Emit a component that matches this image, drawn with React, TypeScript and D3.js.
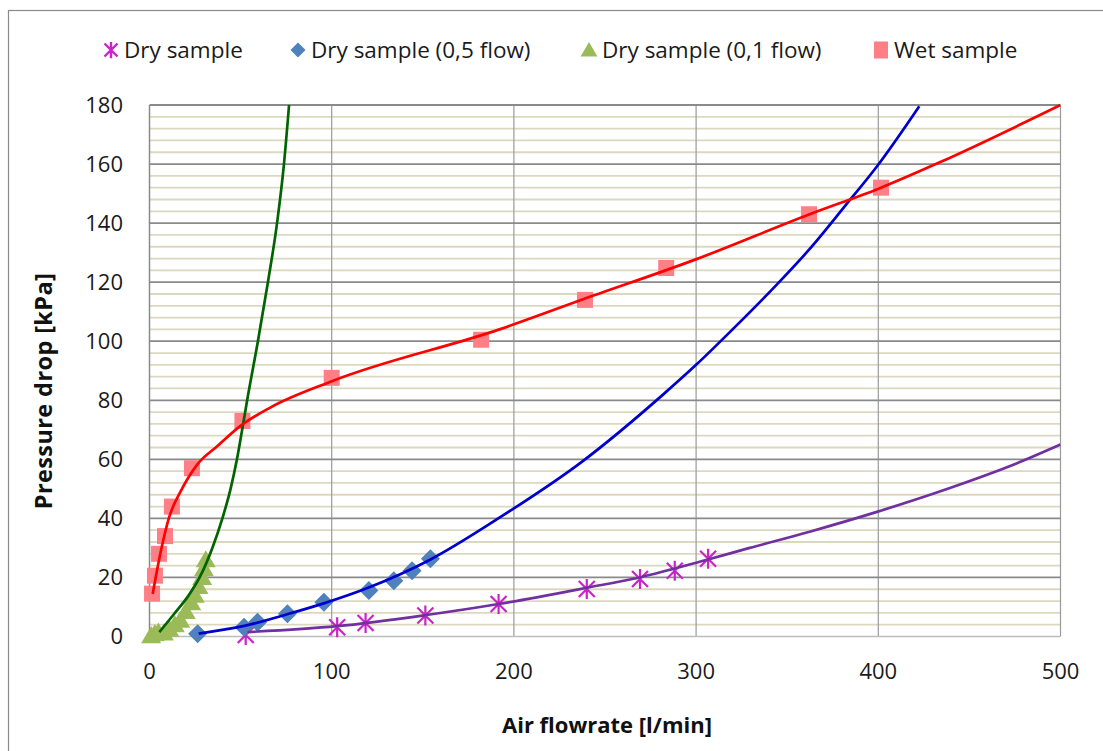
import React, { useEffect, useRef } from 'react';
import * as d3 from 'd3';

// axis ticks
const xTicks = [0, 100, 200, 300, 400, 500];
const yTicks = [0, 20, 40, 60, 80, 100, 120, 140, 160, 180];

// measured points
const dryX = [52.8, 103, 118.6, 151.4, 191.6, 240, 269.2, 288.3, 306.6];
const dryY = [0.5, 3.1, 4.6, 7.1, 11, 16.1, 19.5, 22.3, 26.3];
const dry05X = [26.4, 51.9, 59.3, 75.7, 95.7, 120.4, 134.1, 144.1, 154.2];
const dry05Y = [0.9, 3.1, 4.8, 7.7, 11.6, 15.6, 18.9, 22.3, 26.3];
const dry01X = [2, 4, 6, 9, 12, 15, 18, 21, 24, 26, 28, 30, 31, 32];
const dry01Y = [0.3, 1, 1.5, 1.2, 2.5, 4, 5.5, 8.5, 11.5, 14, 17, 20, 23, 26];
const wetX = [1.4, 3, 5.2, 8.5, 12.3, 23.3, 51, 100, 182, 239, 283.6, 362, 401.5];
const wetY = [14.5, 20.6, 28, 34, 44, 57, 73, 87.6, 100.5, 114, 124.8, 143, 152];

// trendlines
const dryFitX = [53.8, 103, 151, 191.6, 240, 269, 306, 329.4, 362.3, 399.7, 438.9, 475.5, 500];
const dryFitY = [1.5, 3.5, 7.2, 11, 16.5, 20, 26, 30, 35.5, 42.3, 50.2, 58.5, 65];
const dry05FitX = [27, 52, 76, 96, 120, 154, 192.5, 238, 282, 300, 320, 344, 362, 382, 399, 422.5];
const dry05FitY = [1, 3.6, 7.6, 11.3, 16.5, 26, 40.4, 59.5, 82, 92, 104, 119, 131, 146, 159, 179.6];
const dry01FitX = [5.4, 13.6, 21, 27.5, 34.5, 40, 44.5, 48, 51.4, 53.6, 59.5, 65, 70, 73.8, 76.6];
const dry01FitY = [1.5, 7.7, 13.5, 20, 30, 40, 50, 60, 72, 80, 100, 120, 140, 160, 180];
const wetFitX = [1.75, 6.3, 10.8, 17.3, 26.4, 37.3, 50.1, 66.5, 99.4, 192.5, 238, 300.2, 362.3, 401.5, 433.4, 500];
const wetFitY = [14.4, 29.1, 40.4, 49.4, 58.4, 64.5, 71.4, 77.6, 86.3, 104.1, 114.2, 127.8, 143, 152, 160.5, 180];

const seriesNames = ['Dry sample', 'Dry sample (0,5 flow)', 'Dry sample (0,1 flow)', 'Wet sample'];

const W = 1103;
const H = 751;
const FONT = '"Open Sans", Lato, sans-serif';

export default function App() {
  const ref = useRef<SVGSVGElement>(null);

  useEffect(() => {
    document.body.style.margin = '0';
    const svg = d3.select(ref.current);
    svg.selectAll('*').remove();

    const x = d3.scaleLinear().domain([0, 500]).range([149.5, 1060.5]);
    const y = d3.scaleLinear().domain([0, 180]).range([636.5, 105]);
    const [x0, x1] = x.range();
    const [y0, y1] = y.range();

    // chart border
    svg.append('rect')
      .attr('x', 8.5).attr('y', 10.5)
      .attr('width', 1300).attr('height', 1000)
      .attr('fill', 'none').attr('stroke', '#8a8a8a').attr('stroke-width', 1.2);

    // minor gridlines
    const minor = d3.range(4, 180, 4).filter((v) => v % 20 !== 0);
    svg.append('g').selectAll('line').data(minor).join('line')
      .attr('x1', x0).attr('x2', x1)
      .attr('y1', (d) => y(d)).attr('y2', (d) => y(d))
      .attr('stroke', '#dcd8c0').attr('stroke-width', 1.8);

    // vertical gridlines
    svg.append('g').selectAll('line').data(xTicks.slice(1)).join('line')
      .attr('x1', (d) => x(d)).attr('x2', (d) => x(d))
      .attr('y1', y1).attr('y2', y0)
      .attr('stroke', '#9a9a9a').attr('stroke-width', 1.2);

    // major gridlines
    svg.append('g').selectAll('line').data(yTicks.slice(1)).join('line')
      .attr('x1', x0).attr('x2', x1)
      .attr('y1', (d) => y(d)).attr('y2', (d) => y(d))
      .attr('stroke', '#8a8a8a').attr('stroke-width', 1.8);

    // axes lines
    svg.append('line').attr('x1', x0).attr('x2', x0).attr('y1', y1).attr('y2', y0)
      .attr('stroke', '#8a8a8a').attr('stroke-width', 1.5);
    svg.append('line').attr('x1', x0).attr('x2', x1).attr('y1', y0).attr('y2', y0)
      .attr('stroke', '#bdbdbd').attr('stroke-width', 1.5);

    // tick labels
    svg.append('g').selectAll('text').data(yTicks).join('text')
      .attr('x', 123).attr('y', (d) => y(d)).attr('dy', '0.36em')
      .attr('text-anchor', 'end').attr('font-family', FONT).attr('font-size', 22)
      .attr('fill', '#1a1a1a').text((d) => d);
    svg.append('g').selectAll('text').data(xTicks).join('text')
      .attr('x', (d) => x(d)).attr('y', 679)
      .attr('text-anchor', 'middle').attr('font-family', FONT).attr('font-size', 22)
      .attr('fill', '#1a1a1a').text((d) => d);

    // axis titles
    svg.append('text')
      .attr('transform', 'translate(52,391) rotate(-90)')
      .attr('text-anchor', 'middle').attr('font-family', FONT).attr('font-size', 23.5)
      .attr('letter-spacing', 0.4)
      .attr('font-weight', 700).attr('fill', '#111').text('Pressure drop [kPa]');
    svg.append('text')
      .attr('x', 607).attr('y', 733)
      .attr('text-anchor', 'middle').attr('font-family', FONT).attr('font-size', 22)
      .attr('font-weight', 700).attr('fill', '#111').text('Air flowrate [l/min]');

    const zip = (xs: number[], ys: number[]) => xs.map((v, i) => [v, ys[i]] as [number, number]);

    const plot = svg.append('g');
    plot.append('clipPath').attr('id', 'clip').append('rect')
      .attr('x', x0).attr('y', y1 - 2).attr('width', x1 - x0).attr('height', y0 - y1 + 4);

    // markers
    const starPath = (s: number) =>
      `M${-s},${-s}L${s},${s}M${-s},${s}L${s},${-s}M0,${-s * 1.25}L0,${s * 1.25}`;
    const diamond = (s: number) => `M0,${-s}L${s},0L0,${s}L${-s},0Z`;
    const triangle = (s: number) => `M0,${-s}L${s * 1.05},${s * 0.8}L${-s * 1.05},${s * 0.8}Z`;

    plot.append('g').selectAll('path').data(zip(dryX, dryY)).join('path')
      .attr('transform', (d) => `translate(${x(d[0])},${y(d[1])})`)
      .attr('d', starPath(8)).attr('stroke', '#cc22cc').attr('stroke-width', 2.2).attr('fill', 'none');
    plot.append('g').selectAll('path').data(zip(dry05X, dry05Y)).join('path')
      .attr('transform', (d) => `translate(${x(d[0])},${y(d[1])})`)
      .attr('d', diamond(9.5)).attr('fill', '#4f81bd');
    plot.append('g').selectAll('path').data(zip(dry01X, dry01Y)).join('path')
      .attr('transform', (d) => `translate(${x(d[0]) - 2},${y(d[1])})`)
      .attr('d', triangle(9.5)).attr('fill', '#9bbb59');
    plot.append('g').selectAll('rect').data(zip(wetX, wetY)).join('rect')
      .attr('x', (d) => x(d[0]) - 8).attr('y', (d) => y(d[1]) - 8)
      .attr('width', 16).attr('height', 16).attr('fill', '#ff7f86');

    // trendlines
    const line = d3.line<[number, number]>()
      .x((d) => x(d[0])).y((d) => y(d[1]))
      .curve(d3.curveMonotoneX);
    const fits: [number[], number[], string][] = [
      [dryFitX, dryFitY, '#7030a0'],
      [dry05FitX, dry05FitY, '#0000cc'],
      [dry01FitX, dry01FitY, '#006400'],
      [wetFitX, wetFitY, '#ff0000'],
    ];
    fits.forEach(([xs, ys, c]) => {
      plot.append('path').datum(zip(xs, ys))
        .attr('d', line).attr('fill', 'none').attr('stroke', c)
        .attr('stroke-width', 2.7).attr('clip-path', 'url(#clip)');
    });

    // legend
    const legendX = [111, 298, 589, 881];
    const lg = svg.append('g');
    seriesNames.forEach((name, i) => {
      const cx = legendX[i];
      const g = lg.append('g').attr('transform', `translate(${cx},50)`);
      if (i === 0) g.append('path').attr('d', starPath(6.5)).attr('stroke', '#cc22cc').attr('stroke-width', 2.4).attr('fill', 'none');
      if (i === 1) g.append('path').attr('d', diamond(7.5)).attr('fill', '#4f81bd');
      if (i === 2) g.append('path').attr('d', triangle(8)).attr('fill', '#9bbb59');
      if (i === 3) g.append('rect').attr('x', -7).attr('y', -8.5).attr('width', 14).attr('height', 17).attr('fill', '#ff7f86');
      g.append('text').attr('x', 13).attr('y', 0).attr('dy', '0.36em')
        .attr('font-family', FONT).attr('font-size', 22.5).attr('fill', '#1a1a1a').text(name);
    });
  }, []);

  return <svg ref={ref} width={W} height={H} style={{ display: 'block', background: '#fff' }} />;
}
